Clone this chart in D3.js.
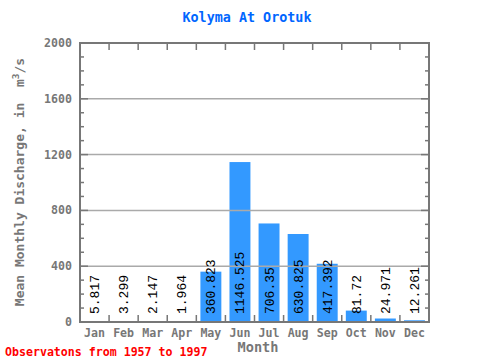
<!DOCTYPE html>
<html><head><meta charset="utf-8">
<script src="https://cdn.jsdelivr.net/npm/d3@7"></script>
<style>body{margin:0;background:#fff}svg{display:block}</style>
</head><body>
<script>
const months = ["Jan","Feb","Mar","Apr","May","Jun","Jul","Aug","Sep","Oct","Nov","Dec"];
const discharge = [5.817,3.299,2.147,1.964,360.823,1146.525,706.35,630.825,417.392,81.72,24.971,12.261];
const labels = ["5.817","3.299","2.147","1.964","360.823","1146.525","706.35","630.825","417.392","81.72","24.971","12.261"];
const yTicks = [0,400,800,1200,1600,2000];
const W=480,H=360, L=80, R=429, T=43, B=322;
const font = "'DejaVu Sans Mono', 'Liberation Mono', monospace";
const font2 = "'Liberation Mono', 'DejaVu Sans Mono', monospace";
const svg = d3.select("body").append("svg").attr("width",W).attr("height",H);
const x = d3.scaleBand().domain(months).range([L,R]).paddingInner(0.28).paddingOuter(0.14);
const xb = d3.scaleLinear().domain([0,12]).range([L,R]);
const y = d3.scaleLinear().domain([0,2000]).range([B,T]);
const gray="#777";
// bars
svg.selectAll("rect.bar").data(discharge).join("rect").attr("class","bar")
  .attr("x",(d,i)=>x(months[i])).attr("width",x.bandwidth())
  .attr("y",d=>y(d)).attr("height",d=>B-y(d)).attr("fill","#3399ff");
// gridlines
svg.selectAll("line.grid").data(yTicks.filter(v=>v>0&&v<2000)).join("line")
  .attr("x1",L).attr("x2",R).attr("y1",d=>y(d)).attr("y2",d=>y(d))
  .attr("stroke","#aaa").attr("stroke-width",1.5);
// minor ticks
const minor = d3.range(0,2001,100);
svg.selectAll("line.ml").data(minor).join("line")
  .attr("x1",L).attr("x2",d=>L+(d%400===0?8:4)).attr("y1",d=>y(d)).attr("y2",d=>y(d))
  .attr("stroke",gray).attr("stroke-width",1.5);
svg.selectAll("line.mr").data(minor).join("line")
  .attr("x1",R).attr("x2",d=>R-(d%400===0?8:4)).attr("y1",d=>y(d)).attr("y2",d=>y(d))
  .attr("stroke",gray).attr("stroke-width",1.5);
const bounds = d3.range(1,12);
svg.selectAll("line.tt").data(bounds).join("line")
  .attr("x1",d=>xb(d)).attr("x2",d=>xb(d)).attr("y1",T).attr("y2",T+7)
  .attr("stroke",gray).attr("stroke-width",1.5);
svg.selectAll("line.bt").data(bounds).join("line")
  .attr("x1",d=>xb(d)).attr("x2",d=>xb(d)).attr("y1",B).attr("y2",B-7)
  .attr("stroke",gray).attr("stroke-width",1.5);
// frame
svg.append("rect").attr("x",L).attr("y",T).attr("width",R-L).attr("height",B-T)
  .attr("fill","none").attr("stroke",gray).attr("stroke-width",2);
// y tick labels
svg.selectAll("text.yt").data(yTicks).join("text")
  .attr("x",L-8).attr("y",d=>y(d)+4).attr("text-anchor","end")
  .attr("font-family",font).attr("font-size",11.6).attr("font-weight","bold").attr("fill",gray)
  .text(d=>d);
// x tick labels
svg.selectAll("text.xt").data(months).join("text")
  .attr("x",d=>x(d)+x.bandwidth()/2).attr("y",337).attr("text-anchor","middle")
  .attr("font-family",font).attr("font-size",11.6).attr("font-weight","bold").attr("fill",gray)
  .text(d=>d);
// value labels
svg.selectAll("text.vl").data(labels).join("text")
  .attr("transform",(d,i)=>`translate(${x(months[i])+x.bandwidth()/2+4.5},314) rotate(-90)`)
  .attr("font-family",font2).attr("font-size",13).attr("fill","#000")
  .text(d=>d);
// title
svg.append("text").attr("x",247).attr("y",22).attr("text-anchor","middle")
  .attr("font-family",font).attr("font-size",13.4).attr("font-weight","bold").attr("fill","#0066ff")
  .text("Kolyma At Orotuk");
// x label
svg.append("text").attr("x",258).attr("y",352).attr("text-anchor","middle")
  .attr("font-family",font).attr("font-size",13.6).attr("font-weight","bold").attr("fill",gray)
  .text("Month");
// y label
const yl = svg.append("text").attr("transform","translate(24,182) rotate(-90)").attr("text-anchor","middle")
  .attr("font-family",font).attr("font-size",13).attr("font-weight","bold").attr("fill",gray);
yl.append("tspan").text("Mean Monthly Discharge, in\u00a0\u00a0m");
yl.append("tspan").attr("dy",-5).attr("font-size",9.5).text("3");
yl.append("tspan").attr("dy",5).text("/s");
// note
svg.append("text").attr("x",5).attr("y",356)
  .attr("font-family",font).attr("font-size",11.6).attr("font-weight","bold").attr("fill","#ff0000")
  .text("Observatons from 1957 to 1997");
</script>
</body></html>
